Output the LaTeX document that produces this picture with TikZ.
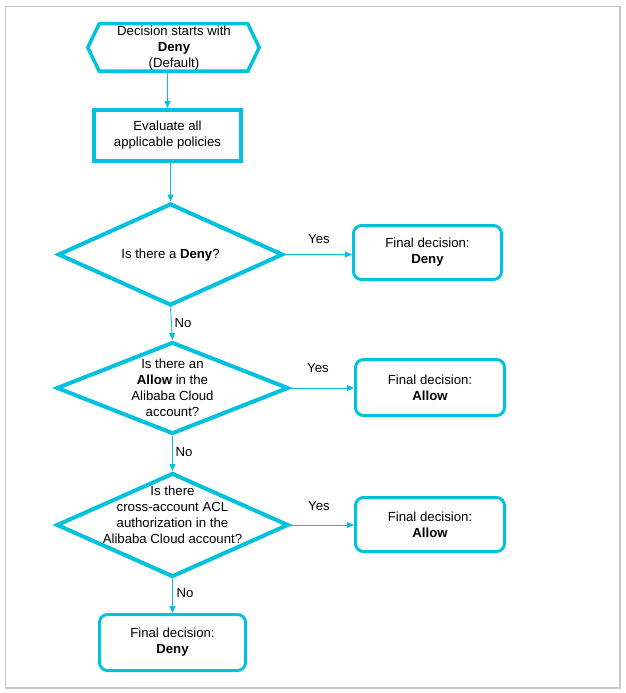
\documentclass[tikz,border=0pt]{standalone}
\usepackage{fontspec}
\setmainfont{Liberation Sans}
\usetikzlibrary{shapes.geometric,arrows.meta}
\definecolor{ali}{RGB}{0,193,222}
\definecolor{framegray}{RGB}{200,200,200}
\begin{document}
\begin{tikzpicture}[x=1pt,y=-1pt,
  font=\fontsize{13.2}{16}\selectfont,
  txt/.style={inner sep=0pt, align=center},
  boxr/.style={draw=ali, line width=3pt, rounded corners=8pt, align=center, inner sep=0pt},
  dia/.style={draw=ali, line width=4pt, shape=diamond, inner sep=0pt},
  arr/.style={draw=ali, line width=0.9pt, -{Triangle[length=7pt,width=6pt]}},
  lbl/.style={inner sep=0pt}
]
\useasboundingbox (0,0) rectangle (625,693);
\draw[framegray, line width=1.5pt] (5.5,6.5) rectangle (620,688);

% start hexagon
\node[minimum width=168pt, minimum height=44pt, inner sep=0pt, outer sep=1.75pt] (start) at (173.5,47.5) {};
\draw[ali, line width=3.5pt]
  ([xshift=11.5pt]start.north west) -- ([xshift=-11.5pt]start.north east) -- (start.east)
  -- ([xshift=-11.5pt]start.south east) -- ([xshift=11.5pt]start.south west) -- (start.west) -- cycle;
\node[txt] (starttxt) at (174,48) {Decision starts with\\\textbf{Deny}\\(Default)};

% evaluate
\node[draw=ali, line width=4pt, minimum width=147pt, minimum height=51pt, align=center, inner sep=0pt] (eval) at (167.5,135.5) {Evaluate all\\applicable policies};

% diamonds
\node[dia, minimum width=225pt, minimum height=102pt] (d1) at (170.5,254.5) {};
\node[txt] (d1txt) at (170.5,255) {Is there a \textbf{Deny}?};

\node[dia, minimum width=232pt, minimum height=92pt] (d2) at (172.5,388) {};
\node[txt] (d2txt) at (172.5,388) {Is there an\\\textbf{Allow} in the\\Alibaba Cloud\\account?};

\node[dia, minimum width=232pt, minimum height=104pt] (d3) at (172.5,525) {};
\node[txt] (d3txt) at (172.5,515) {Is there\\cross-account ACL\\authorization in the\\Alibaba Cloud account?};

% result boxes
\node[boxr, minimum width=148pt, minimum height=54pt] (b1) at (427.5,252.5) {Final decision:\\\textbf{Deny}};
\node[boxr, minimum width=149pt, minimum height=56pt] (b2) at (430,387.5) {Final decision:\\\textbf{Allow}};
\node[boxr, minimum width=149pt, minimum height=54pt] (b3) at (430,524.5) {Final decision:\\\textbf{Allow}};
\node[boxr, minimum width=146pt, minimum height=56pt] (b4) at (172.5,642.5) {Final decision:\\\textbf{Deny}};

% connectors
\draw[arr] (eval.north |- start.south) -- (eval.north);
\draw[arr] (d1.north |- eval.south) -- (d1.north);
\draw[arr] (d1.east) -- (d1.east -| b1.west);
\draw[arr] (d1.south) -- (d2.north);
\draw[arr] (d2.east) -- (d2.east -| b2.west);
\draw[arr] (d2.south) -- (d3.north);
\draw[arr] (d3.east) -- (d3.east -| b3.west);
\draw[arr] (d3.south) -- (b4.north);

% labels
\node[lbl] (y1) at (319,239) {Yes};
\node[lbl] (y2) at (318,368) {Yes};
\node[lbl] (y3) at (319,506) {Yes};
\node[lbl] (n1) at (183,323) {No};
\node[lbl] (n2) at (184,452) {No};
\node[lbl] (n3) at (185,593) {No};
\end{tikzpicture}
\end{document}
